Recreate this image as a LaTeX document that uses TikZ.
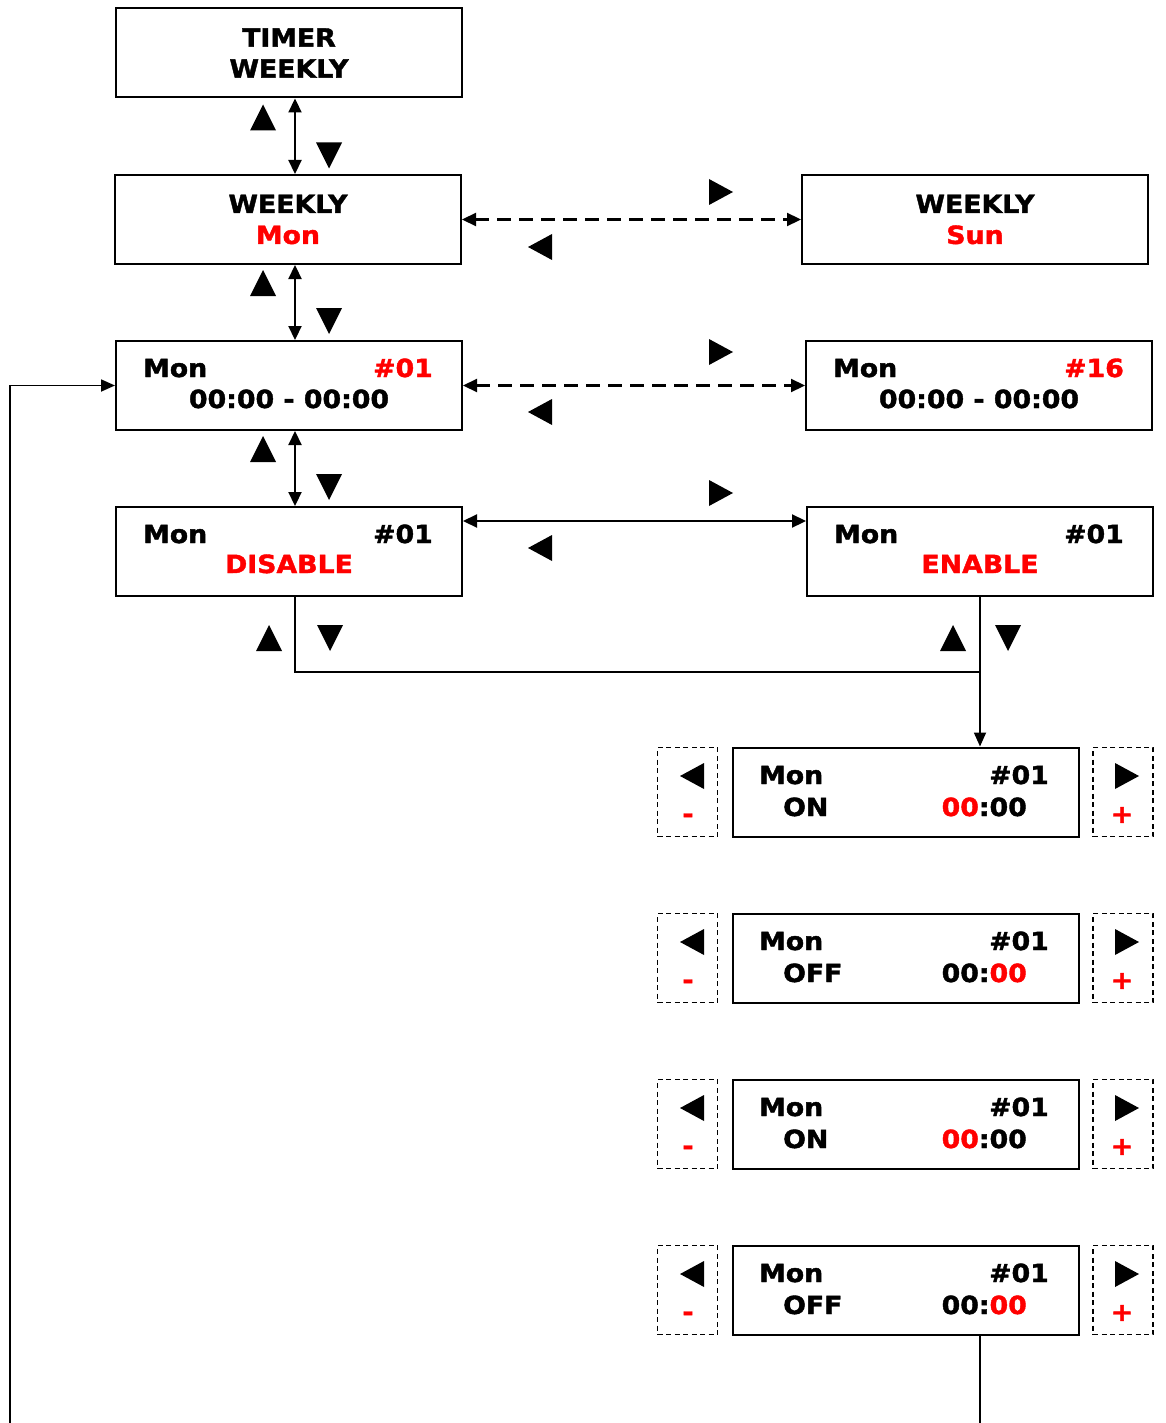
\documentclass[tikz,border=0pt]{standalone}
\usepackage{fontspec}
\setmainfont{DejaVu Sans}[BoldFeatures={FakeBold=1.6, FakeStretch=1.07}]
\usepackage{xcolor}
\usepackage{tikz}
\usetikzlibrary{arrows.meta}
\definecolor{KeyRed}{RGB}{255, 0, 0}

\tikzset{
  pics/tup/.style={code={\fill (-13,13) -- (13,13) -- (0,-13) -- cycle;}},
  pics/tdown/.style={code={\fill (-13,-13) -- (13,-13) -- (0,13) -- cycle;}},
  pics/tleft/.style={code={\fill (12,-13) -- (12,13) -- (-12,0) -- cycle;}},
  pics/tright/.style={code={\fill (-12,-13) -- (-12,13) -- (12,0) -- cycle;}},
}

\begin{document}
\begin{tikzpicture}[x=1pt, y=-1pt,
    lcd/.style={draw, line width=2pt, minimum width=346pt, minimum height=89pt,
                inner sep=0pt, align=center, font=\fontsize{25}{31}\selectfont\bfseries},
    keybox/.style={draw, dash pattern=on 5pt off 3.5pt, line width=1.6pt,
                   minimum width=60pt, minimum height=89pt, inner sep=0pt},
    txt/.style={inner sep=0pt, font=\fontsize{25}{30}\selectfont\bfseries},
    link/.style={line width=2.2pt, {Triangle[length=14pt,width=13pt]}-{Triangle[length=14pt,width=13pt]}},
    wire/.style={line width=1.8pt},
    dashlink/.style={link, dash pattern=on 14pt off 8pt}]
  \useasboundingbox (0,0) rectangle (1165,1423);

  % menu column
  \node[lcd] (tw) at (289,53) {TIMER\\WEEKLY};
  \node[lcd] (wmon) at (288,219.5) {WEEKLY\\ \textcolor{KeyRed}{Mon}};
  \node[lcd] (wsun) at (975,219.5) {WEEKLY\\ \textcolor{KeyRed}{Sun}};
  \node[lcd] (t1) at (289,385.5) {};
  \node[lcd] (t16) at (979,385.5) {};
  \node[lcd] (dis) at (289,551.5) {};
  \node[lcd] (ena) at (980,551.5) {};

  \node[txt, anchor=base west] (t1day) at ([xshift=28pt,yshift=8.5pt]t1.west) {Mon};
  \node[txt, anchor=base east, text=KeyRed] (t1no) at ([xshift=-30pt,yshift=8.5pt]t1.east) {\#01};
  \node[txt, anchor=base] (t1time) at ([yshift=-22.5pt]t1.center) {00:00 - 00:00};
  \node[txt, anchor=base west] (t16day) at ([xshift=28pt,yshift=8.5pt]t16.west) {Mon};
  \node[txt, anchor=base east, text=KeyRed] (t16no) at ([xshift=-29pt,yshift=8.5pt]t16.east) {\#16};
  \node[txt, anchor=base] (t16time) at ([yshift=-22.5pt]t16.center) {00:00 - 00:00};
  \node[txt, anchor=base west] (disday) at ([xshift=28pt,yshift=8.5pt]dis.west) {Mon};
  \node[txt, anchor=base east] (disno) at ([xshift=-30pt,yshift=8.5pt]dis.east) {\#01};
  \node[txt, anchor=base, text=KeyRed] (disst) at ([yshift=-21.5pt]dis.center) {DISABLE};
  \node[txt, anchor=base west] (enaday) at ([xshift=28pt,yshift=8.5pt]ena.west) {Mon};
  \node[txt, anchor=base east] (enano) at ([xshift=-30pt,yshift=8.5pt]ena.east) {\#01};
  \node[txt, anchor=base, text=KeyRed] (enast) at ([yshift=-21.5pt]ena.center) {ENABLE};

  % time setting screens
  \foreach \i/\yy/\st/\ch/\cm in {1/792/ON/KeyRed/black, 2/958/OFF/black/KeyRed,
                                  3/1124/ON/KeyRed/black, 4/1290/OFF/black/KeyRed} {
    \node[lcd] (set\i) at (906,\yy) {};
    \node[keybox] (minus\i) at (687.5,\yy) {};
    \node[keybox] (plus\i) at (1123,\yy) {};
    \node[txt, anchor=base west] (day\i) at ([xshift=27pt,yshift=8pt]set\i.west) {Mon};
    \node[txt, anchor=base east] (no\i) at ([xshift=-31pt,yshift=8pt]set\i.east) {\#01};
    \node[txt, anchor=base west] (st\i) at ([xshift=51pt,yshift=-24pt]set\i.west) {\st};
    \node[txt, anchor=base east] (tm\i) at ([xshift=-53pt,yshift=-24pt]set\i.east) {\textcolor{\ch}{00}:\textcolor{\cm}{00}};
    \pic at ([xshift=4.5pt,yshift=16pt]minus\i.center) {tleft};
    \node[txt, text=KeyRed] (mi\i) at ([xshift=0.5pt,yshift=-26pt]minus\i.center) {-};
    \pic at ([xshift=4pt,yshift=16pt]plus\i.center) {tright};
    \node[txt, text=KeyRed] (pl\i) at ([xshift=-1pt,yshift=-23pt]plus\i.center) {+};
  }

  % connectors
  \draw[link] ([xshift=6pt]tw.south) -- ([xshift=6pt]tw.south |- wmon.north);
  \draw[link] ([xshift=7pt]wmon.south) -- ([xshift=7pt]wmon.south |- t1.north);
  \draw[link] ([xshift=6pt]t1.south) -- ([xshift=6pt]dis.north);
  \draw[dashlink] (wmon.east) -- (wsun.west);
  \draw[dashlink] (t1.east) -- (t16.west);
  \draw[link] ([yshift=30.5pt]dis.east) -- ([yshift=30.5pt]ena.west);

  \coordinate (jn) at (980,672);
  \coordinate (bot) at (980,1423);
  \coordinate (lft) at (10,1423);
  \draw[wire] ([xshift=6pt]dis.south) |- (jn);
  \draw[wire, -{Triangle[length=14pt,width=12pt]}] (ena.south) -- (ena.south |- set1.north);
  \draw[wire] (set4.south -| bot) -- (bot);
  \draw[wire, -{Triangle[length=14pt,width=12pt]}] (lft) |- (t1.west);

  % key marks
  \pic at (263,117.5) {tup};
  \pic at (329,155.5) {tdown};
  \pic at (263,283) {tup};
  \pic at (329,321) {tdown};
  \pic at (263,449) {tup};
  \pic at (329,487) {tdown};
  \pic at (721,192) {tright};
  \pic at (540,247) {tleft};
  \pic at (721,352) {tright};
  \pic at (540,412) {tleft};
  \pic at (721,493) {tright};
  \pic at (540,548) {tleft};
  \pic at (269,638) {tup};
  \pic at (330,638) {tdown};
  \pic at (953,638) {tup};
  \pic at (1008,638) {tdown};
\end{tikzpicture}
\end{document}
